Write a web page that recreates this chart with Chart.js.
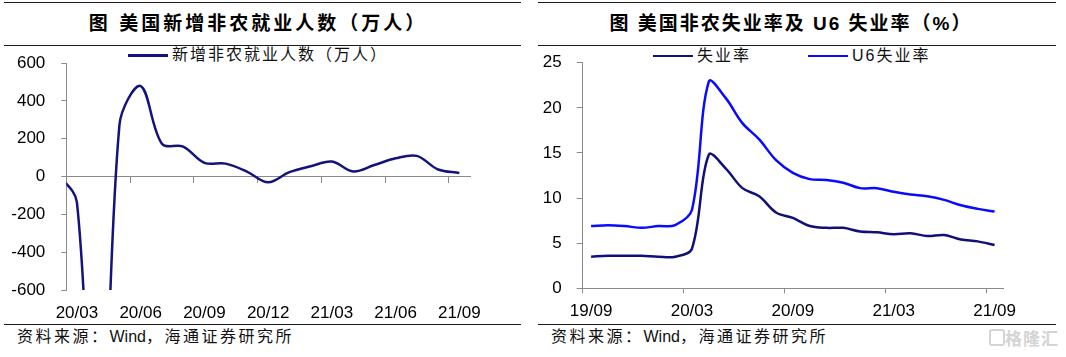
<!DOCTYPE html>
<html><head><meta charset="utf-8">
<script src="https://cdn.jsdelivr.net/npm/chart.js@4.4.0/dist/chart.umd.min.js"></script>
<style>
body{margin:0;background:#fff;}
#page{position:relative;width:1066px;height:357px;overflow:hidden;font-family:"Liberation Sans","Noto Sans CJK SC",sans-serif;color:#000;}
.rule{position:absolute;height:1px;background:#1a1a1a;}
.title{position:absolute;top:10px;height:28px;line-height:28px;font-weight:bold;font-size:19px;white-space:nowrap;transform:translateX(-50%);}
.src{position:absolute;top:327px;font-size:16px;line-height:20px;letter-spacing:2.5px;color:#111;white-space:nowrap;}
.src span{letter-spacing:0;}
.lgl{position:absolute;height:2.5px;}
.lgt{position:absolute;font-size:16px;line-height:20px;letter-spacing:2px;color:#111;white-space:nowrap;}
canvas{position:absolute;}
.wm{position:absolute;left:1005px;top:325px;font-size:17px;font-weight:bold;color:#d4d4d4;font-family:"Noto Sans CJK SC";letter-spacing:1px;}
.wmbox{position:absolute;left:989px;top:329px;width:12px;height:13px;border:2px solid #d4d4d4;border-radius:3px;}
</style></head>
<body><div id="page">
<div class="rule" style="left:4px;top:2px;width:517px"></div>
<div class="rule" style="left:4px;top:45px;width:517px"></div>
<div class="rule" style="left:4px;top:324px;width:517px"></div>
<div class="rule" style="left:538px;top:2px;width:518px"></div>
<div class="rule" style="left:538px;top:45px;width:518px"></div>
<div class="rule" style="left:538px;top:324px;width:518px"></div>
<div class="title" style="left:258px;letter-spacing:3px">图 美国新增非农就业人数（万人）</div>
<div class="title" style="left:791px;letter-spacing:2px">图 美国非农失业率及 U6 失业率（%）</div>
<div class="src" style="left:17px">资料来源：<span>Wind</span>，海通证券研究所</div>
<div class="src" style="left:551px">资料来源：<span>Wind</span>，海通证券研究所</div>
<div class="lgl" style="left:128px;top:54px;width:40px;background:#13137f"></div>
<div class="lgt" style="left:172px;top:45px">新增非农就业人数（万人）</div>
<div class="lgl" style="left:653px;top:54.5px;width:40px;background:#10107a"></div>
<div class="lgt" style="left:697px;top:45.7px">失业率</div>
<div class="lgl" style="left:808px;top:54.5px;width:40px;background:#0a0aff"></div>
<div class="lgt" style="left:852px;top:45.7px">U6失业率</div>
<div class="wmbox"></div><div class="wm">格隆汇</div>
<canvas id="c1" width="533" height="276" style="left:0;top:46px;width:533px;height:276px"></canvas>
<canvas id="c2" width="533" height="276" style="left:533px;top:46px;width:533px;height:276px"></canvas>
</div>
<script>
// ---- data ----
const nfpMonths = ['20/02','20/03','20/04','20/05','20/06','20/07','20/08','20/09','20/10','20/11','20/12','21/01','21/02','21/03','21/04','21/05','21/06','21/07','21/08','21/09'];
const nfpValues = [27, -137, -2068, 272, 478, 173, 158, 72, 68, 26, -31, 23, 54, 79, 27, 61, 96, 109, 37, 19];
const nfpTicks = [-600, -400, -200, 0, 200, 400, 600];

const urMonths = ['19/09','19/10','19/11','19/12','20/01','20/02','20/03','20/04','20/05','20/06','20/07','20/08','20/09','20/10','20/11','20/12','21/01','21/02','21/03','21/04','21/05','21/06','21/07','21/08','21/09'];
const urValues = [3.5, 3.6, 3.6, 3.6, 3.5, 3.5, 4.4, 14.8, 13.3, 11.1, 10.2, 8.4, 7.8, 6.9, 6.7, 6.7, 6.3, 6.2, 6.0, 6.1, 5.8, 5.9, 5.4, 5.2, 4.8];
const u6Values = [6.9, 7.0, 6.9, 6.7, 6.9, 7.0, 8.7, 22.9, 21.1, 18.3, 16.5, 14.2, 12.8, 12.1, 12.0, 11.7, 11.1, 11.1, 10.7, 10.4, 10.2, 9.8, 9.2, 8.8, 8.5];
const urTicks = [0, 5, 10, 15, 20, 25];

const gray = '#8a8a8a';
const clear = 'rgba(0,0,0,0)';
const tickFont = { family: 'Liberation Sans', size: 17 };
const fixY = w => s => { s.width = w; s.paddingTop = 0; s.paddingBottom = 0; };

new Chart(document.getElementById('c1'), {
  type: 'line',
  data: { labels: nfpMonths, datasets: [{
    label: '新增非农就业人数（万人）', data: nfpValues, borderColor: '#13137f',
    borderWidth: 2.5, pointRadius: 0, tension: 0.35, fill: false, clip: 0
  }]},
  options: {
    responsive: false, animation: false,
    layout: { padding: { top: 17, right: 63, left: 0, bottom: 0 } },
    plugins: { legend: { display: false }, tooltip: { enabled: false } },
    scales: {
      x: {
        type: 'category', min: '20/03', offset: true, position: 'bottom',
        grid: { display: false, drawTicks: false }, border: { display: false },
        ticks: { autoSkip: false, maxRotation: 0, minRotation: 0, padding: 13, color: '#000', font: tickFont,
          callback: function (v, i) { return i % 3 === 0 ? this.getLabelForValue(v) : ''; } },
        afterFit: s => { s.height = 32; }
      },
      x0: {
        type: 'category', axis: 'x', min: '20/03', offset: true, position: { y: 0 },
        grid: { offset: true, drawOnChartArea: false, tickLength: 6, lineWidth: 1,
          tickColor: ctx => (ctx.index !== undefined && ctx.index % 3 === 0) ? gray : clear },
        border: { color: gray, width: 1 },
        ticks: { display: false, autoSkip: false }
      },
      y: {
        min: nfpTicks[0], max: nfpTicks[nfpTicks.length - 1],
        afterBuildTicks: s => { s.ticks = nfpTicks.map(v => ({ value: v })); },
        ticks: { padding: 16, color: '#000', font: tickFont },
        grid: { drawOnChartArea: false, tickLength: 5, color: gray },
        border: { color: gray, width: 1 },
        afterFit: fixY(66.3)
      }
    }
  }
});

new Chart(document.getElementById('c2'), {
  type: 'line',
  data: { labels: urMonths, datasets: [
    { label: '失业率', data: urValues, borderColor: '#10107a', borderWidth: 2.5, pointRadius: 0, tension: 0.35, fill: false },
    { label: 'U6失业率', data: u6Values, borderColor: '#0a0aff', borderWidth: 2.5, pointRadius: 0, tension: 0.35, fill: false }
  ]},
  options: {
    responsive: false, animation: false,
    layout: { padding: { top: 16.7, right: 63, left: 0, bottom: 0 } },
    plugins: { legend: { display: false }, tooltip: { enabled: false } },
    scales: {
      x: {
        type: 'category', offset: true,
        grid: { offset: true, drawOnChartArea: false, tickLength: 5, lineWidth: 1,
          tickColor: ctx => (ctx.index !== undefined && ctx.index % 6 === 0) ? gray : clear },
        border: { color: gray, width: 1 },
        ticks: { autoSkip: false, maxRotation: 0, minRotation: 0, padding: 8, color: '#000', font: tickFont,
          callback: function (v, i) { return i % 6 === 0 ? this.getLabelForValue(v) : ''; } },
        afterFit: s => { s.height = 33.7; }
      },
      y: {
        min: urTicks[0], max: urTicks[urTicks.length - 1],
        afterBuildTicks: s => { s.ticks = urTicks.map(v => ({ value: v })); },
        ticks: { padding: 15, color: '#000', font: tickFont },
        grid: { drawOnChartArea: false, tickLength: 6, color: gray },
        border: { color: gray, width: 1 },
        afterFit: fixY(49.7)
      }
    }
  }
});
</script>
</body></html>
